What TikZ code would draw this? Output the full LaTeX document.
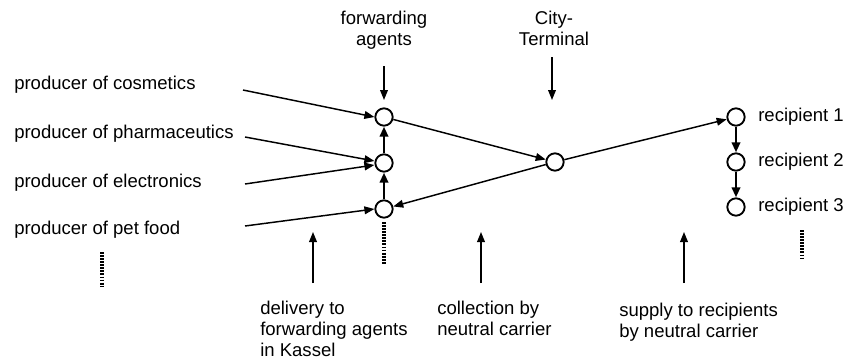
\documentclass[tikz,border=0pt]{standalone}
\usepackage{fontspec}
\setmainfont{Liberation Sans}
\usetikzlibrary{arrows.meta}
\begin{document}
\begin{tikzpicture}[x=0.75pt,y=-0.75pt,
  hub/.style={circle,draw,line width=1.4pt,minimum size=13pt,inner sep=0pt,fill=white},
  lbl/.style={inner sep=0pt,font=\fontsize{13.9}{15.8}\selectfont},
  flow/.style={line width=1.1pt,-{Triangle[length=7.5pt,width=5.8pt]}},
  link/.style={line width=2pt,-{Triangle[length=7.5pt,width=6.2pt]}},
  more/.style={line width=2.4pt,dash pattern=on 1.4pt off 0.9pt}]
\useasboundingbox (0,0) rectangle (846,361);

% transshipment points
\node[hub] (f1) at (384,117) {};
\node[hub] (f2) at (384,163) {};
\node[hub] (f3) at (384,209) {};
\node[hub] (ct) at (555,162) {};
\node[hub] (r1) at (736,117) {};
\node[hub] (r2) at (736,162) {};
\node[hub] (r3) at (736,207) {};

% producers
\node[lbl,anchor=west] (p1) at (14,85) {producer of cosmetics};
\node[lbl,anchor=west] (p2) at (14,134) {producer of pharmaceutics};
\node[lbl,anchor=west] (p3) at (14,183) {producer of electronics};
\node[lbl,anchor=west] (p4) at (14,230) {producer of pet food};

% recipients
\node[lbl,anchor=west] (q1) at (758,117) {recipient 1};
\node[lbl,anchor=west] (q2) at (758,162) {recipient 2};
\node[lbl,anchor=west] (q3) at (758,207) {recipient 3};

% headings
\node[lbl,align=center,anchor=north] (fa) at (384,11) {forwarding\\agents};
\node[lbl,align=center,anchor=north] (city) at (554,11) {City-\\Terminal};

% captions
\node[lbl,align=left,anchor=north west] (dk) at (260,301) {delivery to\\forwarding agents\\in Kassel};
\node[lbl,align=left,anchor=north west] (cn) at (437,301) {collection by\\neutral carrier};
\node[lbl,align=left,anchor=north west] (sr) at (619,303) {supply to recipients\\by neutral carrier};

% pointer arrows
\coordinate (faS) at (384,66);
\coordinate (faE) at (384,100);
\coordinate (ctS) at (552,57);
\coordinate (ctE) at (552,100);
\draw[flow] (faS) -- (faE);
\draw[flow] (ctS) -- (ctE);
\coordinate (dA) at (313,283);
\coordinate (cA) at (481,283);
\coordinate (sA) at (684,283);
\draw[flow] (dA) -- (313,232);
\draw[flow] (cA) -- (481,232);
\draw[flow] (sA) -- (684,232);

% deliveries from producers
\coordinate (s1) at (243,90);
\coordinate (s2) at (245,137);
\coordinate (s3) at (245,184);
\coordinate (s4) at (245,226);
\draw[flow] (s1) -- (f1.west);
\draw[flow] (s2) -- ([yshift=1.5pt]f2.west);
\draw[flow] (s3) -- ([yshift=-1.5pt]f2.west);
\draw[flow] (s4) -- (f3.west);

% consolidation between forwarding agents
\draw[link] (f3) -- (f2);
\draw[link] (f2) -- (f1);

% neutral carrier
\draw[flow] (f1) -- (ct);
\draw[flow] (ct) -- (f3);
\draw[flow] (ct) -- (r1);
\draw[link] (r1) -- (r2);
\draw[link] (r2) -- (r3);

% further participants
\coordinate (m1a) at (102,252);
\coordinate (m1b) at (102,287);
\coordinate (m2a) at (384,222);
\coordinate (m2b) at (384,264);
\coordinate (m3a) at (802,230);
\coordinate (m3b) at (802,260);
\draw[more] (m1a) -- (m1b);
\draw[more] (m2a) -- (m2b);
\draw[more] (m3a) -- (m3b);
\end{tikzpicture}
\end{document}
